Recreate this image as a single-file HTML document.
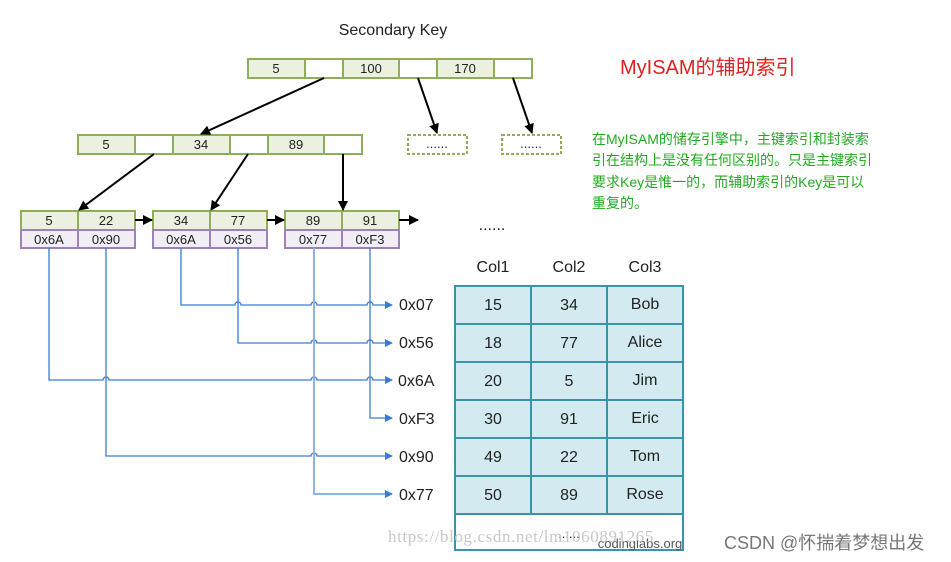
<!DOCTYPE html>
<html><head><meta charset="utf-8"><style>
html,body{margin:0;padding:0;background:#fff;}
svg{display:block;}
text{font-family:"Liberation Sans","Noto Sans CJK SC",sans-serif;}
</style></head><body>
<svg width="951" height="562" viewBox="0 0 951 562" xmlns="http://www.w3.org/2000/svg">
<defs>
<marker id="ab" markerWidth="10" markerHeight="10" refX="9" refY="5" orient="auto" markerUnits="userSpaceOnUse"><path d="M0,0 L10,5 L0,10 z" fill="#000"/></marker>
<marker id="abl" markerWidth="8" markerHeight="8" refX="7" refY="4" orient="auto" markerUnits="userSpaceOnUse"><path d="M0,0 L8,4 L0,8 z" fill="#3a7bd5"/></marker>
</defs>
<text x="393" y="35" font-size="16" text-anchor="middle" fill="#222">Secondary Key</text>
<text x="620" y="74" font-size="20" fill="#e02020">MyISAM的辅助索引</text>
<g font-size="14" fill="#22aa22">
<text x="592" y="144">在MyISAM的储存引擎中，主键索引和封装索</text>
<text x="592" y="165">引在结构上是没有任何区别的。只是主键索引</text>
<text x="592" y="187">要求Key是惟一的，而辅助索引的Key是可以</text>
<text x="592" y="208">重复的。</text>
</g>
<g stroke="#8fae5a" stroke-width="2">
<rect x="248" y="59" width="57" height="19" fill="#ebf0df"/><rect x="305" y="59" width="38" height="19" fill="#fff"/>
<rect x="343" y="59" width="56" height="19" fill="#ebf0df"/><rect x="399" y="59" width="38" height="19" fill="#fff"/>
<rect x="437" y="59" width="57" height="19" fill="#ebf0df"/><rect x="494" y="59" width="38" height="19" fill="#fff"/>
<rect x="78" y="135" width="57" height="19" fill="#ebf0df"/><rect x="135" y="135" width="38" height="19" fill="#fff"/>
<rect x="173" y="135" width="57" height="19" fill="#ebf0df"/><rect x="230" y="135" width="38" height="19" fill="#fff"/>
<rect x="268" y="135" width="56" height="19" fill="#ebf0df"/><rect x="324" y="135" width="38" height="19" fill="#fff"/>
<rect x="408" y="135" width="59" height="19" fill="#fff" stroke-dasharray="3,2"/>
<rect x="502" y="135" width="59" height="19" fill="#fff" stroke-dasharray="3,2"/>
<rect x="21" y="211" width="57" height="19" fill="#ebf0df"/><rect x="78" y="211" width="57" height="19" fill="#ebf0df"/>
<rect x="153" y="211" width="57" height="19" fill="#ebf0df"/><rect x="210" y="211" width="57" height="19" fill="#ebf0df"/>
<rect x="285" y="211" width="57" height="19" fill="#ebf0df"/><rect x="342" y="211" width="57" height="19" fill="#ebf0df"/>
</g>
<g stroke="#9c82b8" stroke-width="2" fill="#f1eef5">
<rect x="21" y="230" width="57" height="18"/><rect x="78" y="230" width="57" height="18"/>
<rect x="153" y="230" width="57" height="18"/><rect x="210" y="230" width="57" height="18"/>
<rect x="285" y="230" width="57" height="18"/><rect x="342" y="230" width="57" height="18"/>
</g>
<g font-size="13" fill="#222" text-anchor="middle">
<text x="276" y="73">5</text><text x="371" y="73">100</text><text x="465" y="73">170</text>
<text x="106" y="149">5</text><text x="201" y="149">34</text><text x="296" y="149">89</text>
<text x="437" y="148">......</text><text x="531" y="148">......</text>
<text x="49" y="225">5</text><text x="106" y="225">22</text><text x="181" y="225">34</text><text x="238" y="225">77</text><text x="313" y="225">89</text><text x="370" y="225">91</text>
<text x="49" y="244">0x6A</text><text x="106" y="244">0x90</text><text x="181" y="244">0x6A</text><text x="238" y="244">0x56</text><text x="313" y="244">0x77</text><text x="370" y="244">0xF3</text>
</g>
<g stroke="#000" stroke-width="2" fill="none" marker-end="url(#ab)">
<line x1="324" y1="78" x2="201" y2="134"/>
<line x1="418" y1="78" x2="437" y2="133"/>
<line x1="513" y1="78" x2="532" y2="133"/>
<line x1="154" y1="154" x2="79" y2="210"/>
<line x1="248" y1="154" x2="211" y2="210"/>
<line x1="343" y1="154" x2="343" y2="210"/>
<line x1="135" y1="220" x2="152" y2="220"/>
<line x1="267" y1="220" x2="284" y2="220"/>
<line x1="399" y1="220" x2="418" y2="220"/>
</g>
<text x="492" y="230" font-size="16" text-anchor="middle" fill="#222">......</text>
<g stroke="#3a7bd5" stroke-width="1.3" fill="none">
<path d="M181,248 V305 H235 a3,3 0 0 1 6,0 H311 a3,3 0 0 1 6,0 H367 a3,3 0 0 1 6,0 H392" marker-end="url(#abl)"/>
<path d="M238,248 V343 H311 a3,3 0 0 1 6,0 H367 a3,3 0 0 1 6,0 H392" marker-end="url(#abl)"/>
<path d="M49,248 V380 H103 a3,3 0 0 1 6,0 H311 a3,3 0 0 1 6,0 H367 a3,3 0 0 1 6,0 H392" marker-end="url(#abl)"/>
<path d="M370,248 V418 H392" marker-end="url(#abl)"/>
<path d="M106,248 V456 H311 a3,3 0 0 1 6,0 H392" marker-end="url(#abl)"/>
<path d="M314,248 V494 H392" marker-end="url(#abl)" stroke="#8ab4e8" stroke-width="2"/>
</g>
<g font-size="16" fill="#222">
<text x="399" y="310">0x07</text><text x="399" y="348">0x56</text><text x="398" y="386">0x6A</text>
<text x="399" y="424">0xF3</text><text x="399" y="462">0x90</text><text x="399" y="500">0x77</text>
</g>
<g font-size="16" fill="#222" text-anchor="middle">
<text x="493" y="272">Col1</text><text x="569" y="272">Col2</text><text x="645" y="272">Col3</text>
</g>
<g stroke="#3a93a8" stroke-width="2">
<rect x="455" y="286" width="228" height="228" fill="#d3eaf0"/>
<rect x="455" y="514" width="228" height="36" fill="#fff"/>
<line x1="531" y1="286" x2="531" y2="514"/><line x1="607" y1="286" x2="607" y2="514"/>
<line x1="455" y1="324" x2="683" y2="324"/><line x1="455" y1="362" x2="683" y2="362"/>
<line x1="455" y1="400" x2="683" y2="400"/><line x1="455" y1="438" x2="683" y2="438"/>
<line x1="455" y1="476" x2="683" y2="476"/>
</g>
<g font-size="16" fill="#222" text-anchor="middle">
<text x="493" y="310">15</text><text x="569" y="310">34</text><text x="645" y="309">Bob</text>
<text x="493" y="348">18</text><text x="569" y="348">77</text><text x="645" y="347">Alice</text>
<text x="493" y="386">20</text><text x="569" y="386">5</text><text x="645" y="385">Jim</text>
<text x="493" y="424">30</text><text x="569" y="424">91</text><text x="645" y="423">Eric</text>
<text x="493" y="462">49</text><text x="569" y="462">22</text><text x="645" y="461">Tom</text>
<text x="493" y="500">50</text><text x="569" y="500">89</text><text x="645" y="499">Rose</text>
<text x="569" y="538" font-size="13">......</text>
</g>
<text x="640" y="548" font-size="13" text-anchor="middle" fill="#555">codinglabs.org</text>
<text x="388" y="542" font-size="17" fill="#c8c8c8" style="font-family:'Liberation Serif',serif;letter-spacing:0.6px">https://blog.csdn.net/lm1060891265</text>
<text x="724" y="549" font-size="18" fill="#777">CSDN @怀揣着梦想出发</text>
</svg>
</body></html>
